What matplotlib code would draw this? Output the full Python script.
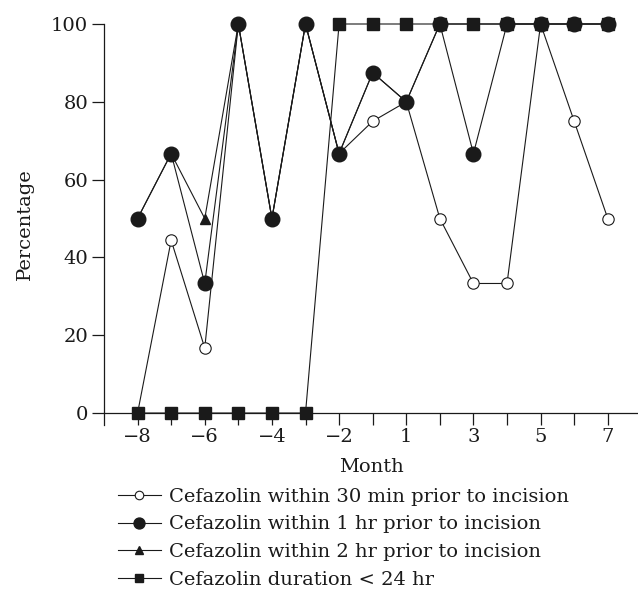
import matplotlib
matplotlib.use("Agg")
import matplotlib.pyplot as plt

plt.rcParams['font.family'] = ['DejaVu Serif']

# mois (pas de mois 0 dans l'étude)
months = [-8, -7, -6, -5, -4, -3, -2, -1, 1, 2, 3, 4, 5, 6, 7]
tick_labels = ["−8", "", "−6", "", "−4", "", "−2", "", "1", "", "3", "", "5", "", "7"]

within_30min = [0, 44.4, 16.7, 100, 50, 100, 66.7, 75, 80, 50, 33.3, 33.3, 100, 75, 50]
within_1hr = [50, 66.7, 33.3, 100, 50, 100, 66.7, 87.5, 80, 100, 66.7, 100, 100, 100, 100]
within_2hr = [50, 66.7, 50, 100, 50, 100, 66.7, 87.5, 80, 100, 100, 100, 100, 100, 100]
duration_24hr = [0, 0, 0, 0, 0, 0, 100, 100, 100, 100, 100, 100, 100, 100, 100]

x = list(range(len(months)))
ink = "#1a1a1a"

fig = plt.figure(figsize=(6.38, 5.98), dpi=100)
ax = fig.add_axes([104 / 638, 1 - 424.7 / 598, 1 - 104 / 638, (424.7 - 24) / 598])

# ordre de tracé : cercles vides, triangles, carrés, cercles pleins
l1, = ax.plot(x, within_30min, color=ink, lw=0.8, marker='o', ms=8.2,
              mfc='white', mec=ink, mew=0.8, clip_on=False, zorder=3,
              label="Cefazolin within 30 min prior to incision")
l3, = ax.plot(x, within_2hr, color=ink, lw=0.8, marker='^', ms=7.5,
              mfc=ink, mec=ink, clip_on=False, zorder=4,
              label="Cefazolin within 2 hr prior to incision")
l4, = ax.plot(x, duration_24hr, color=ink, lw=0.8, marker='s', ms=8.2,
              mfc=ink, mec=ink, clip_on=False, zorder=5,
              label="Cefazolin duration < 24 hr")
l2, = ax.plot(x, within_1hr, color=ink, lw=0.8, marker='o', ms=10.5,
              mfc=ink, mec=ink, clip_on=False, zorder=6,
              label="Cefazolin within 1 hr prior to incision")

ax.set_xlim(-1, 14.9)
ax.set_ylim(-3, 100)
ax.spines['top'].set_visible(False)
ax.spines['right'].set_visible(False)
ax.spines['bottom'].set_position(('data', 0))
for s in ['left', 'bottom']:
    ax.spines[s].set_linewidth(0.9)
    ax.spines[s].set_color(ink)

ax.set_xticks(x)
ax.set_xticklabels(tick_labels)
ax.set_yticks([0, 20, 40, 60, 80, 100])
ax.tick_params(axis='both', direction='out', length=8.5, width=0.9,
               color=ink, labelsize=14, labelcolor=ink)
ax.tick_params(axis='x', pad=2)
ax.tick_params(axis='y', pad=3)

ax.set_xlabel("Month", fontsize=14, color=ink, labelpad=9)
ax.set_ylabel("Percentage", fontsize=14, color=ink, labelpad=12)

fig.legend(handles=[l1, l2, l3, l4], loc='upper left',
           bbox_to_anchor=(108 / 638, 1 - 478 / 598), frameon=False,
           fontsize=14, handlelength=2.2, handletextpad=0.45,
           labelspacing=0.5, borderpad=0, markerscale=0.75, labelcolor=ink)

fig.savefig("out.png", dpi=100)
